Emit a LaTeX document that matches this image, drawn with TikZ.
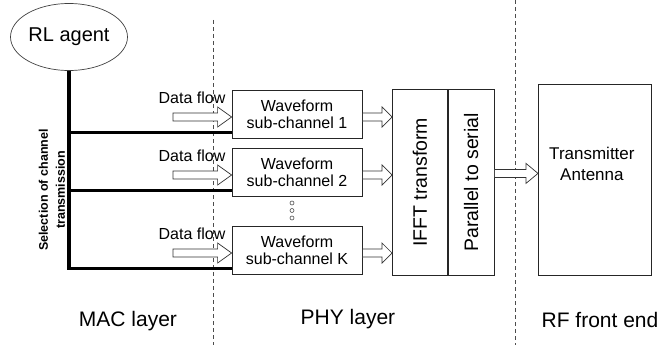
\documentclass[tikz,border=0pt]{standalone}
\usepackage{fontspec}
\setmainfont{Liberation Sans}
\usetikzlibrary{shapes.geometric,calc}
\tikzset{
  blk/.style={draw=black!85,line width=0.8pt,inner sep=0pt,align=center},
  wave/.style={blk,minimum width=130pt,minimum height=48pt,font=\fontsize{16}{17}\selectfont},
  bus/.style={line width=3.6pt,line join=miter},
  layersep/.style={draw=black!70,line width=0.7pt,dash pattern=on 4pt off 3pt},
  flow/.style={draw=black!80,line width=0.7pt,fill=white,
    to path={let \p1=(\tikztostart),\p2=(\tikztotarget) in
      (\x1,\y1+4pt) -- (\x2-#1,\y1+4pt) -- (\x2-#1,\y1+10pt) -- (\x2,\y1)
      -- (\x2-#1,\y1-10pt) -- (\x2-#1,\y1-4pt) -- (\x1,\y1-4pt) -- cycle}},
  flow/.default=14pt,
  dflabel/.style={font=\fontsize{16}{17}\selectfont,inner sep=0pt},
  layerlabel/.style={font=\fontsize{21}{22}\selectfont,inner sep=0pt,anchor=base}
}
\begin{document}
\begin{tikzpicture}[x=1pt,y=-1pt]
\useasboundingbox (0,0) rectangle (668,345);
\pgfmathsetmacro{\kwx}{297}
\pgfmathsetmacro{\kbox}{48}
\pgfmathsetmacro{\kbus}{6}
\draw[layersep] (213,20) coordinate (macphy) -- (213,345) coordinate (macphyend);
\draw[layersep] (515,0) coordinate (phyrf) -- (515,345) coordinate (phyrfend);
\node[draw=black!75,line width=0.7pt,ellipse,inner sep=0pt,minimum width=117pt,minimum height=67pt,font=\fontsize{20}{22}\selectfont] (agent) at (69,37) {RL agent};
\node[rotate=90,align=center,inner sep=0pt,font=\bfseries\fontsize{12.5}{17}\selectfont] (sel) at (52,190) {Selection of channel\\transmission};
\foreach \ch/\yc/\lb in {1/114/1,2/172/2,3/250/K}{
  \node[wave] (w\ch) at (\kwx,\yc) {Waveform\\sub-channel \lb};
  \node[dflabel] (dl\ch) at (192,\yc-16) {Data flow};
  \coordinate (df\ch) at (173,\yc+3);
  \coordinate (bw\ch) at ($(w\ch.south west)+(0,-\kbus)$);
}
\node[blk,minimum width=55pt,minimum height=186pt,anchor=north west] (ifft) at (392,89) {};
\node[blk,minimum width=46pt,minimum height=186pt,anchor=north west] (p2s) at (ifft.north east) {};
\node[rotate=90,inner sep=0pt,font=\fontsize{19.5}{20}\selectfont] (ifftlb) at (ifft.center) {IFFT transform};
\node[rotate=90,inner sep=0pt,font=\fontsize{19.5}{20}\selectfont] (p2slb) at (p2s.center) {Parallel to serial};
\node[blk,minimum width=113pt,minimum height=191pt,anchor=north west] (tx) at (538,84) {};
\node[align=center,inner sep=0pt,font=\fontsize{17}{21}\selectfont] (txlb) at ($(tx.center)+(-3,-16)$) {Transmitter\\Antenna};
\foreach \kd in {0,1,2}{
  \node[draw=black!70,line width=0.6pt,circle,inner sep=0pt,minimum size=4pt] (dot\kd) at (292,203+7.5*\kd) {};
}
\draw[bus] (agent.south) |- (bw3);
\foreach \ch in {1,2}{\draw[bus] (agent.south |- bw\ch) -- (bw\ch);}
\foreach \ch in {1,2,3}{
  \draw[flow] (df\ch) to (w\ch.west);
  \draw[flow=10pt] ($(w\ch.east)+(0,3)$) to (ifft.west);
}
\draw[flow=12pt] ($(p2s.east)+(0,-9)$) to (tx.west);
\node[layerlabel] (mac) at (128,326) {MAC layer};
\node[layerlabel] (phy) at (348,324) {PHY layer};
\node[layerlabel] (rf) at (600,327) {RF front end};
\end{tikzpicture}
\end{document}
